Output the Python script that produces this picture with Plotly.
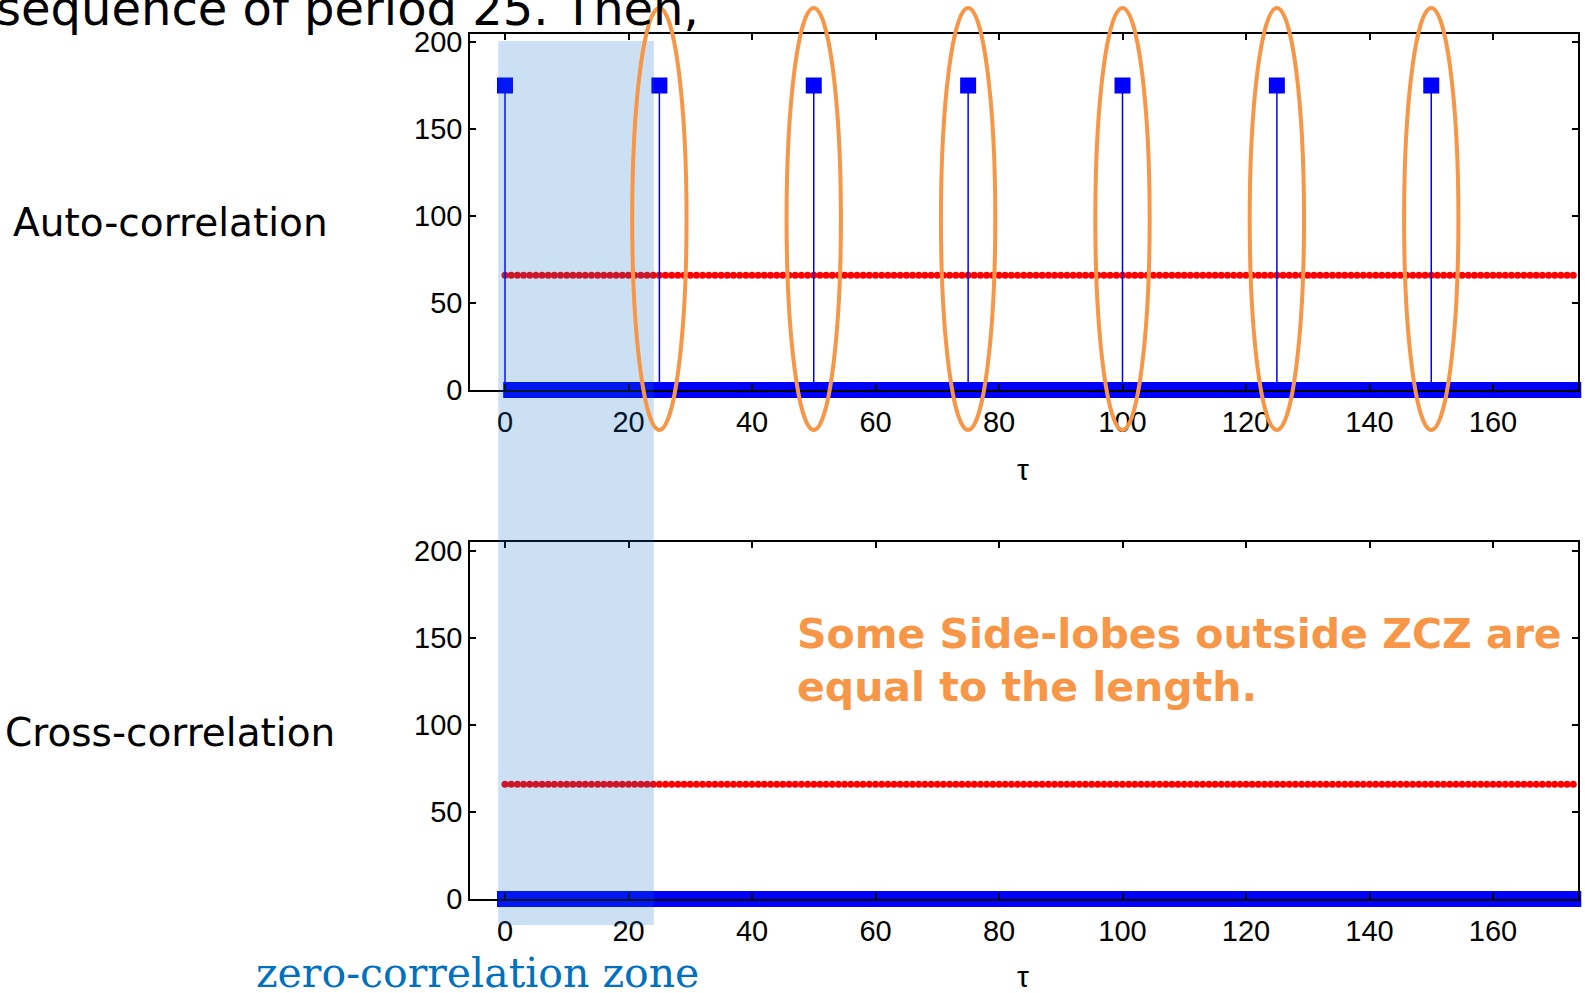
import plotly.graph_objects as go

# ---------------- data ----------------
tau = list(range(0, 176))                      # lag values tau
peak_tau = [0, 25, 50, 75, 100, 125, 150]      # auto-correlation peaks
peak_value = [175, 175, 175, 175, 175, 175, 175]
bound_value = 66                               # red dotted level (both panels)
auto_corr = [peak_value[peak_tau.index(t)] if t in peak_tau else 0 for t in tau]
cross_corr = [0 for t in tau]
bound = [bound_value for t in tau]
x_ticks = [0, 20, 40, 60, 80, 100, 120, 140, 160]
y_ticks = [0, 50, 100, 150, 200]
zcz = [-1.1, 24.1]                            # shaded zero-correlation zone (tau)

# ---------------- layout helpers ----------------
W, H = 1585, 993
def fx(px):
    return px / W
def fy(py):
    return 1 - py / H

X_PX_PER_UNIT = (1493 - 505) / 160.0
Y_PX_PER_UNIT = (390 - 42) / 200.0
x_range = [(470 - 505) / X_PX_PER_UNIT, (1578 - 505) / X_PX_PER_UNIT]
y1_range = [0, (390 - 34) / Y_PX_PER_UNIT]
y2_range = [0, (899 - 542) / Y_PX_PER_UNIT]

BLUE = "rgb(0,0,255)"
RED = "rgb(255,0,0)"
ORANGE = "rgb(247,150,70)"
TICKFONT = dict(family="Liberation Sans, Arial", size=29, color="black")

fig = go.Figure()

# red dotted level
fig.add_trace(go.Scatter(x=tau, y=bound, mode="markers", xaxis="x", yaxis="y",
                         marker=dict(color=RED, size=7, symbol="circle", line=dict(width=0)),
                         showlegend=False))
fig.add_trace(go.Scatter(x=tau, y=bound, mode="markers", xaxis="x2", yaxis="y2",
                         marker=dict(color=RED, size=7, symbol="circle", line=dict(width=0)),
                         showlegend=False))

# stems
def stems(xs, ys):
    sx, sy = [], []
    for a, b in zip(xs, ys):
        sx += [a, a, None]
        sy += [0, b, None]
    return sx, sy

sx, sy = stems(tau, auto_corr)
fig.add_trace(go.Scatter(x=sx, y=sy, mode="lines", xaxis="x", yaxis="y",
                         line=dict(color=BLUE, width=1.5), showlegend=False))
sx2, sy2 = stems(tau, cross_corr)
fig.add_trace(go.Scatter(x=sx2, y=sy2, mode="lines", xaxis="x2", yaxis="y2",
                         line=dict(color=BLUE, width=1.5), showlegend=False))

# stem heads (square markers)
fig.add_trace(go.Scatter(x=tau, y=auto_corr, mode="markers", xaxis="x", yaxis="y",
                         cliponaxis=False,
                         marker=dict(color=BLUE, size=16, symbol="square", line=dict(width=0)),
                         showlegend=False))
fig.add_trace(go.Scatter(x=tau, y=cross_corr, mode="markers", xaxis="x2", yaxis="y2",
                         cliponaxis=False,
                         marker=dict(color=BLUE, size=16, symbol="square", line=dict(width=0)),
                         showlegend=False))

axis_common = dict(showline=True, linecolor="black", linewidth=1.5, mirror="ticks",
                   ticks="inside", ticklen=6, tickwidth=1.5, tickcolor="black",
                   showgrid=False, zeroline=False, tickfont=TICKFONT, layer="above traces",
                   automargin=False)

fig.update_layout(
    width=W, height=H,
    margin=dict(l=0, r=0, t=0, b=0, pad=0, autoexpand=False),
    paper_bgcolor="white", plot_bgcolor="white",
    showlegend=False,
    xaxis=dict(domain=[fx(470), fx(1578)], range=x_range, anchor="y",
               tickvals=x_ticks, ticklabelstandoff=5, **axis_common),
    yaxis=dict(domain=[fy(390), fy(34)], range=y1_range, anchor="x",
               tickvals=y_ticks, **axis_common),
    xaxis2=dict(domain=[fx(470), fx(1578)], range=x_range, anchor="y2",
                tickvals=x_ticks, ticklabelstandoff=5, **axis_common),
    yaxis2=dict(domain=[fy(899), fy(542)], range=y2_range, anchor="x2",
                tickvals=y_ticks, **axis_common),
)

shapes = []
# zero-correlation zone shading spanning both panels
shapes.append(dict(type="rect", xref="x", yref="paper", x0=zcz[0], x1=zcz[1],
                   y0=fy(925), y1=fy(41), fillcolor="rgb(12,110,200)", opacity=0.21,
                   line=dict(width=0), layer="above"))
# orange ellipses around side-lobe peaks
for t in peak_tau[1:]:
    shapes.append(dict(type="circle", xref="x", yref="paper", x0=t - 4.4, x1=t + 4.4,
                       y0=fy(430), y1=fy(8), line=dict(color=ORANGE, width=4),
                       fillcolor="rgba(0,0,0,0)", layer="above"))
fig.update_layout(shapes=shapes)

ann = []
ann.append(dict(text="sequence of period 25. Then,", x=fx(-6), y=fy(8), xref="paper", yref="paper",
                xanchor="left", yanchor="middle", showarrow=False,
                font=dict(family="DejaVu Sans", size=48, color="black")))
ann.append(dict(text="Auto-correlation", x=fx(170), y=fy(222), xref="paper", yref="paper",
                xanchor="center", yanchor="middle", showarrow=False,
                font=dict(family="DejaVu Sans", size=39, color="black")))
ann.append(dict(text="Cross-correlation", x=fx(170), y=fy(732), xref="paper", yref="paper",
                xanchor="center", yanchor="middle", showarrow=False,
                font=dict(family="DejaVu Sans", size=39, color="black")))
for ypx in (469, 976):
    ann.append(dict(text="τ", x=fx(1023), y=fy(ypx), xref="paper", yref="paper",
                    xanchor="center", yanchor="middle", showarrow=False,
                    font=dict(family="Liberation Sans, Arial", size=30, color="black")))
ann.append(dict(text="<b>Some Side-lobes outside ZCZ are<br>equal to the length.</b>",
                x=fx(795), y=fy(660), xref="paper", yref="paper",
                xanchor="left", yanchor="middle", align="left", showarrow=False,
                font=dict(family="DejaVu Sans", size=41, color=ORANGE)))
ann.append(dict(text="zero-correlation zone", x=fx(478), y=fy(973), xref="paper", yref="paper",
                xanchor="center", yanchor="middle", showarrow=False,
                font=dict(family="DejaVu Serif", size=41, color="rgb(0,112,192)")))
fig.update_layout(annotations=ann)

fig.write_html("out.html", config={"displayModeBar": False},
               post_script="document.body.style.margin='0px';")
